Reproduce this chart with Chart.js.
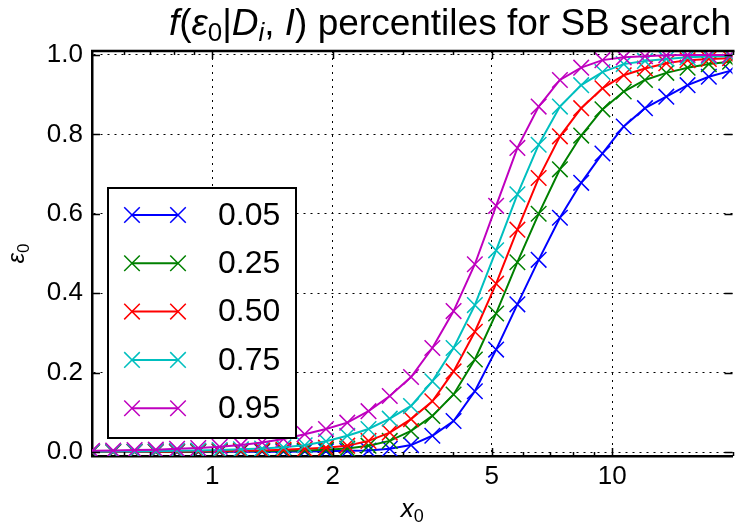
<!DOCTYPE html>
<html>
<head>
<meta charset="utf-8">
<script src="https://cdn.jsdelivr.net/npm/chart.js@4.4.1/dist/chart.umd.min.js"></script>
<style>
  html, body { margin: 0; padding: 0; background: #fff; overflow: hidden; }
  canvas { display: block; }
</style>
</head>
<body>
<canvas id="chart" width="745" height="524"></canvas>
<script>
// data
const x0Values = [0.5, 0.565, 0.639, 0.722, 0.816, 0.922, 1.043, 1.179, 1.332, 1.506,
  1.702, 1.924, 2.175, 2.458, 2.778, 3.14, 3.55, 4.012, 4.535, 5.126,
  5.794, 6.549, 7.402, 8.367, 9.457, 10.69, 12.08, 13.66, 15.44, 17.45, 19.72];

const seriesLabels = ["0.05", "0.25", "0.50", "0.75", "0.95"];
const seriesColors = ["#0000ff", "#008000", "#ff0000", "#00bfbf", "#bf00bf"];

const p05 = [0, 0, 0, 0, 0, 0, 0.0005, 0.0005, 0.001, 0.001,
  0.0015, 0.002, 0.003, 0.004, 0.008, 0.0175, 0.041, 0.078, 0.153, 0.258,
  0.372, 0.484, 0.59, 0.678, 0.752, 0.82, 0.866, 0.895, 0.924, 0.945, 0.96];
const p25 = [0, 0, 0.0005, 0.0005, 0.001, 0.001, 0.0015, 0.002, 0.0025, 0.003,
  0.004, 0.006, 0.009, 0.016, 0.028, 0.053, 0.091, 0.145, 0.233, 0.349,
  0.478, 0.6, 0.712, 0.797, 0.863, 0.908, 0.937, 0.955, 0.968, 0.977, 0.983];
const p50 = [0.0005, 0.0007, 0.001, 0.001, 0.0015, 0.002, 0.0025, 0.003, 0.004, 0.006,
  0.008, 0.011, 0.016, 0.028, 0.049, 0.083, 0.128, 0.203, 0.303, 0.424,
  0.56, 0.69, 0.795, 0.866, 0.916, 0.949, 0.966, 0.979, 0.987, 0.99, 0.992];
const p75 = [0.001, 0.0012, 0.0015, 0.002, 0.003, 0.004, 0.005, 0.007, 0.009, 0.012,
  0.017, 0.027, 0.041, 0.058, 0.084, 0.116, 0.178, 0.262, 0.37, 0.508,
  0.649, 0.774, 0.87, 0.924, 0.957, 0.977, 0.985, 0.99, 0.994, 0.996, 0.997];
const p95 = [0.003, 0.004, 0.005, 0.006, 0.008, 0.01, 0.013, 0.018, 0.024, 0.033,
  0.045, 0.058, 0.074, 0.103, 0.141, 0.189, 0.262, 0.355, 0.473, 0.62,
  0.766, 0.87, 0.937, 0.968, 0.987, 0.994, 0.997, 0.999, 1.0, 1.0, 1.0];

const seriesValues = [p05, p25, p50, p75, p95];

const xMajorTicks = [1, 2, 5, 10];
const xMinorTicks = [0.6, 0.7, 0.8, 0.9, 3, 4, 6, 7, 8, 9, 20];
const yTicks = [0, 0.2, 0.4, 0.6, 0.8, 1.0];

const FONT = '"Liberation Sans", Arial, Helvetica, sans-serif';

function fontStr(size, italic) {
  return (italic ? "italic " : "") + size + "px " + FONT;
}

// draw a run of text pieces (for sub-scripts / italics)
function drawRich(ctx, parts, x, y, align) {
  let total = 0;
  parts.forEach((p) => {
    ctx.font = fontStr(p.size, p.italic);
    p.w = ctx.measureText(p.t).width;
    total += p.w;
  });
  let cx = align === "center" ? x - total / 2 : x;
  parts.forEach((p) => {
    ctx.font = fontStr(p.size, p.italic);
    ctx.fillText(p.t, cx, y + (p.dy || 0));
    cx += p.w;
  });
}

function drawMarker(ctx, x, y, r) {
  const d = r * Math.SQRT1_2;
  ctx.beginPath();
  ctx.moveTo(x - d, y - d); ctx.lineTo(x + d, y + d);
  ctx.moveTo(x + d, y - d); ctx.lineTo(x - d, y + d);
  ctx.stroke();
}

const decorPlugin = {
  id: "decor",
  afterDatasetsDraw(chart) {
    const { ctx, chartArea: a, scales } = chart;
    const xs = scales.x, ys = scales.y;
    ctx.save();
    ctx.strokeStyle = "#000";
    // top spine
    ctx.lineWidth = 2.5;
    ctx.beginPath();
    ctx.moveTo(a.left - 1, a.top);
    ctx.lineTo(a.right + 2, a.top);
    ctx.stroke();
    // inward tick marks
    ctx.lineWidth = 1.5;
    ctx.beginPath();
    xMajorTicks.forEach((v) => {
      const px = Math.round(xs.getPixelForValue(v)) + 0.5;
      ctx.moveTo(px, a.bottom); ctx.lineTo(px, a.bottom - 8);
      ctx.moveTo(px, a.top); ctx.lineTo(px, a.top + 8);
    });
    xMinorTicks.forEach((v) => {
      const px = Math.round(xs.getPixelForValue(v)) + 0.5;
      ctx.moveTo(px, a.bottom); ctx.lineTo(px, a.bottom - 4);
      ctx.moveTo(px, a.top); ctx.lineTo(px, a.top + 4);
    });
    yTicks.forEach((v) => {
      const py = Math.round(ys.getPixelForValue(v)) + 0.5;
      ctx.moveTo(a.left, py); ctx.lineTo(a.left + 8, py);
      ctx.moveTo(a.right, py); ctx.lineTo(a.right - 8, py);
    });
    ctx.stroke();
    ctx.restore();
  },
  afterDraw(chart) {
    const { ctx, chartArea: a } = chart;
    ctx.save();
    ctx.fillStyle = "#000";
    ctx.textBaseline = "alphabetic";

    // title
    const T = 37;
    drawRich(ctx, [
      { t: "f", size: T, italic: true },
      { t: "(", size: T },
      { t: "\u03b5", size: T, italic: true },
      { t: "0", size: T * 0.7, dy: 6 },
      { t: "|", size: T },
      { t: "D", size: T, italic: true },
      { t: "i", size: T * 0.7, italic: true, dy: 6 },
      { t: ", ", size: T },
      { t: "I", size: T, italic: true },
      { t: ")", size: T },
      { t: " percentiles for SB search", size: T }
    ], 450, 35, "center");

    // x axis label
    drawRich(ctx, [
      { t: "x", size: 26, italic: true },
      { t: "0", size: 18, dy: 5 }
    ], (a.left + a.right) / 2, 517, "center");

    // y axis label
    ctx.save();
    ctx.translate(24, (a.top + a.bottom) / 2);
    ctx.rotate(-Math.PI / 2);
    drawRich(ctx, [
      { t: "\u03b5", size: 24, italic: true },
      { t: "0", size: 17, dy: 5 }
    ], 0, 0, "center");
    ctx.restore();

    // legend
    const lx = 108, ly = 188, lw = 188, lh = 250;
    ctx.fillStyle = "#fff";
    ctx.fillRect(lx, ly, lw, lh);
    ctx.strokeStyle = "#000";
    ctx.lineWidth = 2;
    ctx.strokeRect(lx, ly, lw, lh);
    seriesLabels.forEach((lab, i) => {
      const y = ly + 27 + i * 48.3;
      ctx.strokeStyle = seriesColors[i];
      ctx.lineWidth = 2;
      ctx.beginPath();
      ctx.moveTo(132, y); ctx.lineTo(178, y);
      ctx.stroke();
      ctx.lineWidth = 1.5;
      drawMarker(ctx, 132, y, 11);
      drawMarker(ctx, 178, y, 11);
      ctx.fillStyle = "#000";
      ctx.font = fontStr(32, false);
      ctx.textBaseline = "middle";
      ctx.fillText(lab, 218, y + 1);
    });
    ctx.restore();
  }
};

const datasets = seriesLabels.map((lab, i) => ({
  label: lab,
  data: x0Values.map((x, k) => ({ x: x, y: seriesValues[i][k] })),
  borderColor: seriesColors[i],
  backgroundColor: seriesColors[i],
  borderWidth: 2,
  pointStyle: "crossRot",
  pointRadius: 11,
  pointBorderWidth: 1.5,
  pointBorderColor: seriesColors[i],
  tension: 0,
  fill: false,
  order: seriesLabels.length - i
}));

new Chart(document.getElementById("chart"), {
  type: "line",
  data: { datasets },
  options: {
    responsive: false,
    animation: false,
    devicePixelRatio: 1,
    layout: { padding: { left: 0, top: 51, right: 0, bottom: 0 } },
    plugins: { legend: { display: false }, tooltip: { enabled: false }, title: { display: false } },
    scales: {
      x: {
        type: "logarithmic",
        min: 0.5,
        max: 20,
        afterFit: (s) => { s.height = 68; },
        afterBuildTicks: (s) => { s.ticks = xMajorTicks.map((v) => ({ value: v })); },
        ticks: {
          autoSkip: false,
          maxRotation: 0,
          padding: 5,
          color: "#000",
          font: { family: FONT, size: 26 },
          callback: (v) => String(v)
        },
        grid: { color: "#000", lineWidth: 1, drawTicks: false },
        border: { display: true, color: "#000", width: 2.5, dash: [2, 5] }
      },
      y: {
        type: "linear",
        min: -0.01,
        max: 1.01,
        afterFit: (s) => { s.width = 92; },
        afterBuildTicks: (s) => { s.ticks = yTicks.map((v) => ({ value: v })); },
        ticks: {
          padding: 9,
          color: "#000",
          font: { family: FONT, size: 26 },
          callback: (v) => v.toFixed(1)
        },
        grid: { color: "#000", lineWidth: 1, drawTicks: false },
        border: { display: true, color: "#000", width: 2.5, dash: [2, 5] }
      }
    }
  },
  plugins: [decorPlugin]
});
</script>
</body>
</html>
